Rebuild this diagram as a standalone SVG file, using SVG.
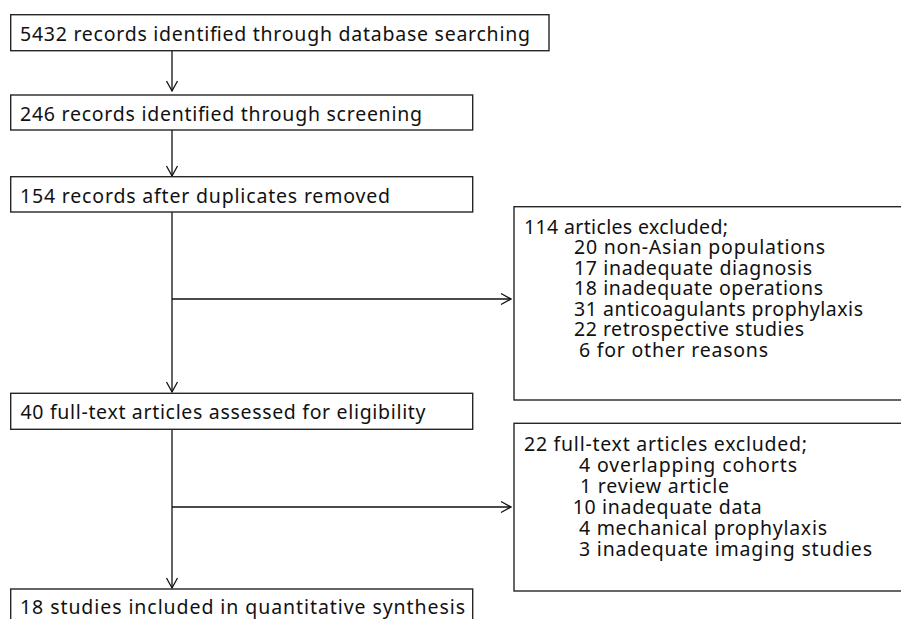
<svg xmlns="http://www.w3.org/2000/svg" width="901" height="619" viewBox="0 0 901 619">
  <defs>
    <style>
      .box { fill: #ffffff; stroke: #262626; stroke-width: 1.4; }
      .lbl { font-family: "Noto Sans", "Open Sans", "DejaVu Sans", sans-serif; font-size: 19.5px; fill: #111111; }
      .wire { fill: none; stroke: #111111; stroke-width: 1.3; }
    </style>
    <marker id="head" viewBox="-11 -7 13 14" markerWidth="13" markerHeight="14" refX="0" refY="0" orient="auto" markerUnits="userSpaceOnUse">
      <path d="M-10,-5.5 L0,0 L-10,5.5" fill="none" stroke="#111111" stroke-width="1.3"/>
    </marker>
  </defs>
  <rect width="901" height="619" fill="#ffffff"/>

  <g id="connectors">
    <line class="wire" x1="172" y1="51" x2="172" y2="91" marker-end="url(#head)"/>
    <line class="wire" x1="172" y1="130" x2="172" y2="176" marker-end="url(#head)"/>
    <line class="wire" x1="172" y1="212" x2="172" y2="392" marker-end="url(#head)"/>
    <line class="wire" x1="172" y1="299" x2="511" y2="299" marker-end="url(#head)"/>
    <line class="wire" x1="172" y1="429" x2="172" y2="588" marker-end="url(#head)"/>
    <line class="wire" x1="172" y1="507" x2="511" y2="507" marker-end="url(#head)"/>
  </g>

  <g id="identified">
    <rect class="box" x="10.7" y="14.7" width="538.3" height="36"/>
    <text class="lbl" x="20" y="40.5" textLength="510" lengthAdjust="spacing">5432 records identified through database searching</text>
  </g>

  <g id="screened">
    <rect class="box" x="10.7" y="95" width="462" height="35"/>
    <text class="lbl" x="20" y="120.5" textLength="402" lengthAdjust="spacing">246 records identified through screening</text>
  </g>

  <g id="deduplicated">
    <rect class="box" x="10.7" y="176.7" width="462" height="35.3"/>
    <text class="lbl" x="20" y="202.5" textLength="370" lengthAdjust="spacing">154 records after duplicates removed</text>
  </g>

  <g id="excluded-records">
    <rect class="box" x="514" y="206.7" width="400" height="193.3"/>
    <text class="lbl" x="524" y="233.5" textLength="204" lengthAdjust="spacing">114 articles excluded;</text>
    <text class="lbl" x="574" y="254" textLength="251" lengthAdjust="spacing">20 non-Asian populations</text>
    <text class="lbl" x="574" y="274.5" textLength="238" lengthAdjust="spacing">17 inadequate diagnosis</text>
    <text class="lbl" x="574" y="295" textLength="249" lengthAdjust="spacing">18 inadequate operations</text>
    <text class="lbl" x="574" y="315.5" textLength="289" lengthAdjust="spacing">31 anticoagulants prophylaxis</text>
    <text class="lbl" x="574" y="336" textLength="230" lengthAdjust="spacing">22 retrospective studies</text>
    <text class="lbl" x="579" y="356.5" textLength="189" lengthAdjust="spacing">6 for other reasons</text>
  </g>

  <g id="assessed">
    <rect class="box" x="10.7" y="393.3" width="462" height="36"/>
    <text class="lbl" x="20.5" y="419" textLength="405" lengthAdjust="spacing">40 full-text articles assessed for eligibility</text>
  </g>

  <g id="excluded-fulltext">
    <rect class="box" x="514" y="423.3" width="400" height="167.7"/>
    <text class="lbl" x="524" y="451" textLength="283" lengthAdjust="spacing">22 full-text articles excluded;</text>
    <text class="lbl" x="579" y="472" textLength="218" lengthAdjust="spacing">4 overlapping cohorts</text>
    <text class="lbl" x="580" y="493" textLength="149" lengthAdjust="spacing">1 review article</text>
    <text class="lbl" x="572.7" y="514" textLength="189" lengthAdjust="spacing">10 inadequate data</text>
    <text class="lbl" x="579" y="535" textLength="248" lengthAdjust="spacing">4 mechanical prophylaxis</text>
    <text class="lbl" x="579" y="556" textLength="293" lengthAdjust="spacing">3 inadequate imaging studies</text>
  </g>

  <g id="included">
    <rect class="box" x="10.7" y="589" width="462" height="40"/>
    <text class="lbl" x="20" y="613.5" textLength="445" lengthAdjust="spacing">18 studies included in quantitative synthesis</text>
  </g>
</svg>
